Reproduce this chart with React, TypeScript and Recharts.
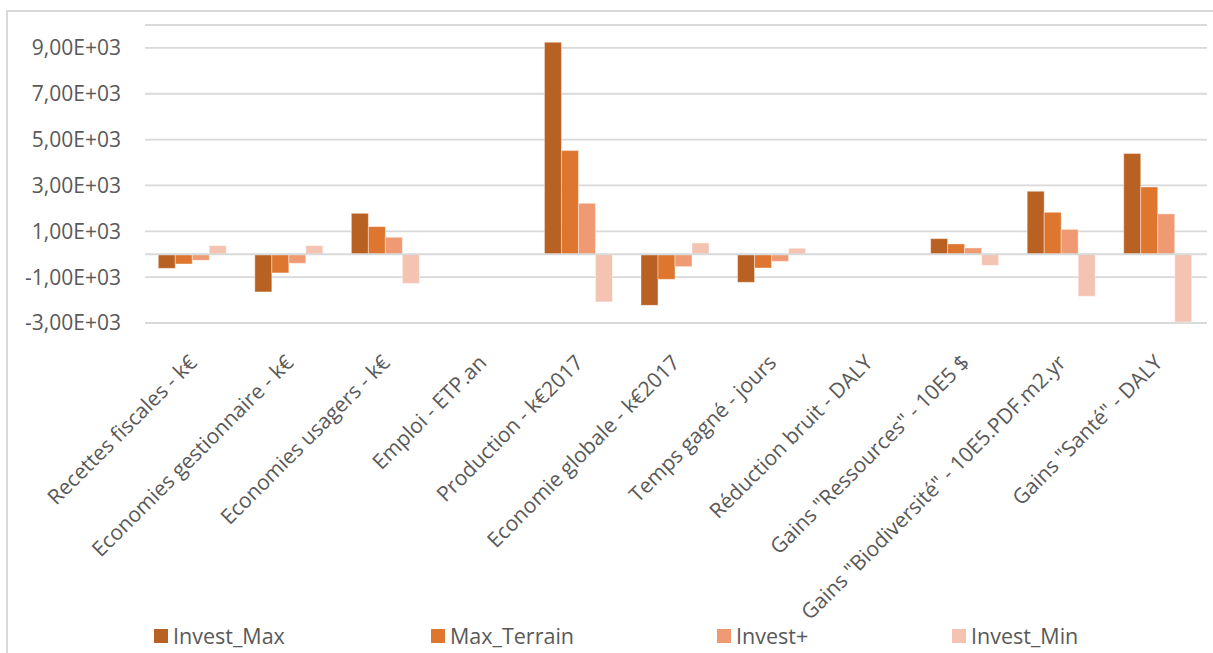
import React from "react";
import { BarChart, Bar, XAxis, YAxis, CartesianGrid, ReferenceLine } from "recharts";

const categories = [
  "Recettes fiscales - k€",
  "Economies gestionnaire - k€",
  "Economies usagers - k€",
  "Emploi - ETP.an",
  "Production - k€2017",
  "Economie globale - k€2017",
  "Temps gagné - jours",
  "Réduction bruit - DALY",
  'Gains "Ressources" - 10E5 $',
  'Gains "Biodiversité" - 10E5.PDF.m2.yr',
  'Gains "Santé" - DALY',
];

const investMax = [-615, -1645, 1785, 10, 9245, -2230, -1225, 6, 680, 2745, 4390];
const maxTerrain = [-425, -815, 1205, 6, 4520, -1095, -600, 4, 450, 1830, 2935];
const investPlus = [-265, -395, 740, 3, 2220, -540, -310, 2, 275, 1085, 1760];
const investMin = [375, 375, -1270, -3, -2080, 490, 260, -2, -485, -1835, -2955];

const yTicks = [-3000, -1000, 1000, 3000, 5000, 7000, 9000];

const seriesNames = ["Invest_Max", "Max_Terrain", "Invest+", "Invest_Min"];
const seriesColors = ["#B96122", "#DE7630", "#EF9A72", "#F5C3B1"];

const data = categories.map((c, i) => ({
  name: c,
  Invest_Max: investMax[i],
  Max_Terrain: maxTerrain[i],
  "Invest+": investPlus[i],
  Invest_Min: investMin[i],
}));

const FONT = "'Open Sans', sans-serif";
const TEXT = "#595959";
const GRID = "#d9d9d9";

function sci(v: number): string {
  if (v === 0) return "0,00E+00";
  const e = Math.floor(Math.log10(Math.abs(v)));
  const m = v / Math.pow(10, e);
  return `${m.toFixed(2).replace(".", ",")}E${e < 0 ? "-" : "+"}${String(Math.abs(e)).padStart(2, "0")}`;
}

const XTick = (props: any) => {
  const { x, y, payload } = props;
  return (
    <g transform={`translate(${x + 5},${y + 41})`}>
      <text
        x={0}
        y={0}
        textAnchor="end"
        transform="rotate(-45)"
        fill={TEXT}
        fontSize={21}
        fontFamily={FONT}
      >
        {payload.value}
      </text>
    </g>
  );
};

const legendLefts = [154, 431, 717, 952];

export default function App() {
  return (
    <div style={{ position: "fixed", left: 0, top: 0, width: 1213, height: 653, background: "#fff", overflow: "hidden" }}>
      <div
        style={{
          position: "absolute",
          left: 6,
          top: 10,
          width: 1220,
          height: 700,
          borderLeft: `2px solid ${GRID}`,
          borderTop: `2px solid ${GRID}`,
          boxSizing: "border-box",
        }}
      />
      <div style={{ position: "absolute", left: 0, top: 0 }}>
        <BarChart
          width={1213}
          height={653}
          data={data}
          margin={{ top: 25, right: 6, left: 15, bottom: 0 }}
          barCategoryGap="13.75%"
          barGap={0}
        >
          <CartesianGrid vertical={false} stroke={GRID} strokeWidth={1.8} />
          <XAxis
            dataKey="name"
            height={330}
            interval={0}
            axisLine={false}
            tickLine={false}
            tickSize={0}
            tickMargin={0}
            tick={<XTick />}
          />
          <YAxis
            width={130}
            domain={[-3000, 10000]}
            ticks={yTicks}
            axisLine={false}
            tickLine={false}
            tickSize={0}
            tickMargin={24}
            tickFormatter={sci}
            tick={{ fill: TEXT, fontSize: 21, fontFamily: FONT }}
            allowDataOverflow
          />
          <ReferenceLine y={0} stroke={GRID} strokeWidth={1.8} />
          {seriesNames.map((n, i) => (
            <Bar
              key={n}
              dataKey={n}
              fill={seriesColors[i]}
              stroke="#ffffff"
              strokeOpacity={0.5}
              strokeWidth={0.8}
              isAnimationActive={false}
            />
          ))}
        </BarChart>
      </div>
      {seriesNames.map((n, i) => (
        <div
          key={n}
          style={{
            position: "absolute",
            left: legendLefts[i],
            top: 621,
            height: 30,
            display: "flex",
            alignItems: "center",
          }}
        >
          <div style={{ width: 14, height: 14, background: seriesColors[i], marginRight: 5 }} />
          <span style={{ fontFamily: FONT, fontSize: 21.5, color: TEXT, lineHeight: "30px" }}>{n}</span>
        </div>
      ))}
    </div>
  );
}
